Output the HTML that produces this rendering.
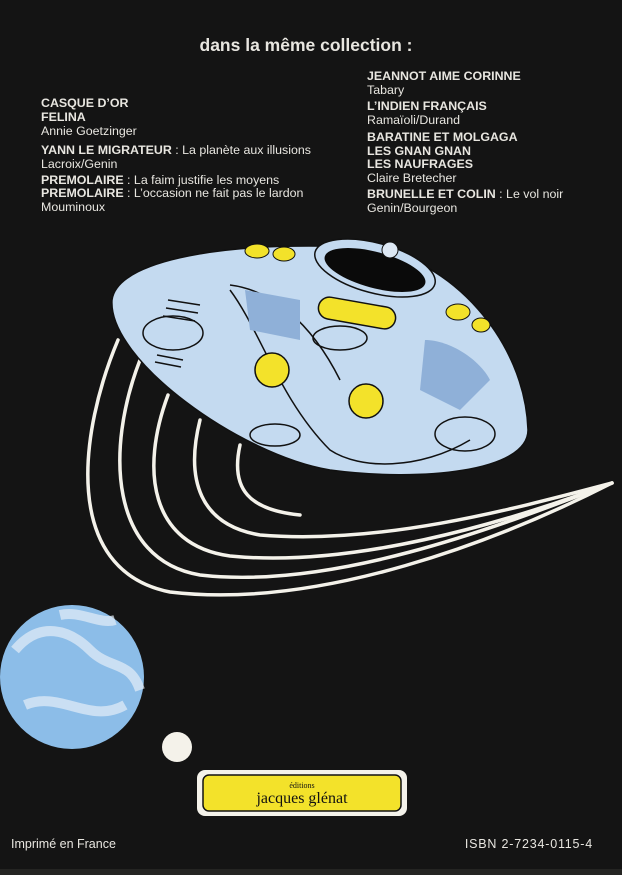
<!DOCTYPE html>
<html><head><meta charset="utf-8"><style>
html,body{margin:0;padding:0;background:#131313;}
svg{display:block}
text{font-family:"Liberation Sans",sans-serif;fill:#e8e6e0;font-size:12.4px}
.b{font-weight:bold}
</style></head><body>
<svg width="622" height="875" viewBox="0 0 622 875" xmlns="http://www.w3.org/2000/svg">
<rect width="622" height="875" fill="#141414"/>
<rect x="0" y="869" width="622" height="6" fill="#242422"/>
<text x="306" y="51" text-anchor="middle" class="b" style="font-size:17.5px">dans la même collection :</text>
<g>
<text x="41" y="107" class="b">CASQUE D’OR</text>
<text x="41" y="121" class="b">FELINA</text>
<text x="41" y="135">Annie Goetzinger</text>
<text x="41" y="154"><tspan class="b">YANN LE MIGRATEUR</tspan> : La planète aux illusions</text>
<text x="41" y="168">Lacroix/Genin</text>
<text x="41" y="184"><tspan class="b">PREMOLAIRE</tspan> : La faim justifie les moyens</text>
<text x="41" y="197"><tspan class="b">PREMOLAIRE</tspan> : L’occasion ne fait pas le lardon</text>
<text x="41" y="211">Mouminoux</text>
<text x="367" y="80" class="b">JEANNOT AIME CORINNE</text>
<text x="367" y="94">Tabary</text>
<text x="367" y="110" class="b">L’INDIEN FRANÇAIS</text>
<text x="367" y="124">Ramaïoli/Durand</text>
<text x="367" y="141" class="b">BARATINE ET MOLGAGA</text>
<text x="367" y="155" class="b">LES GNAN GNAN</text>
<text x="367" y="168" class="b">LES NAUFRAGES</text>
<text x="367" y="182">Claire Bretecher</text>
<text x="367" y="198"><tspan class="b">BRUNELLE ET COLIN</tspan> : Le vol noir</text>
<text x="367" y="212">Genin/Bourgeon</text>
</g>
<g fill="none" stroke="#f4f2ea" stroke-width="3.5" stroke-linecap="round">
<path d="M118,340 C80,430 60,570 170,592 C320,610 500,540 612,483"/>
<path d="M140,360 C105,450 110,560 200,575 C330,590 490,530 612,483"/>
<path d="M168,395 C140,470 150,545 230,556 C350,568 500,525 612,483"/>
<path d="M200,420 C185,480 200,525 260,535 C380,545 510,510 612,483"/>
<path d="M240,445 C230,490 250,510 300,515"/>
</g>
<path d="M112,300 C118,255 250,240 370,248 C450,258 525,340 528,430 C528,472 420,482 330,470 C240,455 108,360 112,300 Z" fill="#c4daf0" stroke="#111" stroke-width="1.5"/>
<path d="M230,290 C260,330 280,400 330,450 C360,470 420,470 470,440" fill="none" stroke="#111" stroke-width="1.5"/>
<path d="M230,285 C270,290 310,320 340,380" fill="none" stroke="#111" stroke-width="1.5"/>
<path d="M245,290 L300,300 L300,340 L250,330 Z" fill="#8fb0d8"/>
<path d="M425,340 C450,340 480,360 490,380 L460,410 L420,390 Z" fill="#8fb0d8"/>
<ellipse cx="375" cy="268" rx="62" ry="25" transform="rotate(15 375 268)" fill="#c4daf0" stroke="#111" stroke-width="1.5"/>
<ellipse cx="375" cy="270" rx="52" ry="18" transform="rotate(15 375 270)" fill="#0a0a0a"/>
<circle cx="390" cy="250" r="8" fill="#dde8f4" stroke="#111"/>
<ellipse cx="257" cy="251" rx="12" ry="7" fill="#f3e22a" stroke="#111"/>
<ellipse cx="284" cy="254" rx="11" ry="7" fill="#f3e22a" stroke="#111"/>
<ellipse cx="458" cy="312" rx="12" ry="8" fill="#f3e22a" stroke="#111"/>
<ellipse cx="481" cy="325" rx="9" ry="7" fill="#f3e22a" stroke="#111"/>
<rect x="318" y="302" width="78" height="22" rx="11" transform="rotate(10 357 313)" fill="#f3e22a" stroke="#111" stroke-width="1.5"/>
<circle cx="272" cy="370" r="17" fill="#f3e22a" stroke="#111" stroke-width="1.5"/>
<circle cx="366" cy="401" r="17" fill="#f3e22a" stroke="#111" stroke-width="1.5"/>
<g fill="none" stroke="#111" stroke-width="1.5">
<ellipse cx="173" cy="333" rx="30" ry="17"/>
<ellipse cx="465" cy="434" rx="30" ry="17"/>
<ellipse cx="340" cy="338" rx="27" ry="12"/>
<ellipse cx="275" cy="435" rx="25" ry="11"/>
<path d="M168,300 L200,305 M166,308 L198,313 M163,316 L195,321"/>
<path d="M157,355 L183,360 M155,362 L181,367"/>
</g>
<circle cx="72" cy="677" r="72" fill="#8cbde8"/>
<path d="M15,650 C40,620 70,630 90,650 C110,670 130,660 140,690 M25,705 C60,690 90,725 125,705 M60,615 C80,610 100,625 115,620" stroke="#e4eef8" stroke-width="10" fill="none" opacity="0.7"/>
<circle cx="177" cy="747" r="15" fill="#f4f2ea"/>
<rect x="197" y="770" width="210" height="46" rx="8" fill="#f4f2ea"/>
<rect x="203" y="775" width="198" height="36" rx="6" fill="#f3e22a" stroke="#111" stroke-width="1.5"/>
<text x="302" y="788" text-anchor="middle" style="font-family:'Liberation Serif',serif;fill:#111;font-size:8px">éditions</text>
<text x="302" y="803" text-anchor="middle" style="font-family:'Liberation Serif',serif;fill:#111;font-size:16px">jacques glénat</text>
<text x="11" y="848" style="font-size:12.5px">Imprimé en France</text>
<text x="593" y="848" text-anchor="end" style="font-size:12.5px;letter-spacing:0.8px">ISBN 2-7234-0115-4</text>
</svg>
</body></html>
